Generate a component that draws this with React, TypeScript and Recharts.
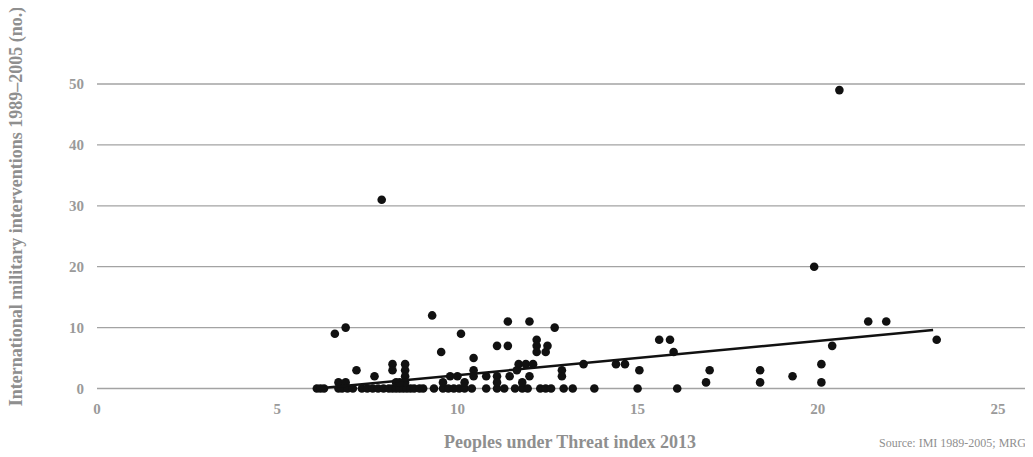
import {
  CartesianGrid,
  Scatter,
  ScatterChart,
  XAxis,
  YAxis,
} from "recharts";

// Peoples under Threat index for countries with no interventions
const zeroThreatIndex = [
  6.1, 6.2, 6.3, 6.7, 6.8, 6.95, 7.1, 7.35, 7.5, 7.65, 7.8, 7.95, 8.1, 8.2,
  8.3, 8.4, 8.5, 8.6, 8.7, 8.8, 8.95, 9.05, 9.35, 9.6, 9.75, 9.9, 10.05, 10.2,
  10.4, 10.8, 11.1, 11.3, 11.6, 11.8, 11.95, 12.3, 12.45, 12.6, 12.95, 13.2,
  13.8, 15.0, 16.1,
];

// countries with at least one intervention (paired arrays)
const threatIndex = [
  6.6, 6.9, 9.3, 10.1, 9.55, 11.1, 11.4, 11.4, 12.0, 12.7, 12.2, 12.2, 12.2,
  12.45, 12.5, 7.9, 20.6, 19.9, 21.4, 21.9, 23.3, 15.6, 15.9, 16.0, 20.4, 20.1,
  20.1, 19.3, 18.4, 18.4, 17.0, 16.9, 15.05, 14.4, 14.65, 13.5, 12.9, 12.9,
  11.7, 11.9, 12.1, 11.65, 12.0, 11.45, 11.1, 11.1, 10.8, 10.45, 10.45, 10.45,
  9.8, 10.0, 9.6, 10.2, 11.8, 7.2, 7.7, 8.2, 8.2, 8.55, 8.55, 8.55, 8.55, 8.3,
  8.4, 6.7, 6.9,
];
const interventions = [
  9, 10, 12, 9, 6, 7, 7, 11, 11, 10, 8, 7, 6, 6, 7, 31, 49, 20, 11, 11, 8, 8,
  8, 6, 7, 4, 1, 2, 3, 1, 3, 1, 3, 4, 4, 4, 3, 2, 4, 4, 4, 3, 2, 2, 2, 1, 2, 5,
  3, 2, 2, 2, 1, 1, 1, 3, 2, 4, 3, 4, 3, 2, 1, 1, 1, 1, 1,
];

// linear trend line endpoints
const trendX = [6.1, 23.2];
const trendY = [0, 9.6];

const xTicks = [0, 5, 10, 15, 20, 25];
const yTicks = [0, 10, 20, 30, 40, 50];

const points = [
  ...zeroThreatIndex.map((x) => ({ x, y: 0 })),
  ...threatIndex.map((x, i) => ({ x, y: interventions[i] })),
];
const trend = trendX.map((x, i) => ({ x, y: trendY[i] }));

const FONT = "'Liberation Serif', 'DejaVu Serif', serif";
const tickStyle = { fill: "#9a9a9a", fontSize: 15, fontWeight: 700, fontFamily: FONT };

const Dot = (props: any) => (
  <circle cx={props.cx} cy={props.cy} r={4.3} fill="#111" />
);

export default function App() {
  return (
    <div style={{ position: "relative", width: 1017, height: 449 }}>
      <ScatterChart
        width={1017}
        height={441}
        margin={{ top: 76, right: 0, bottom: 30.5, left: 0 }}
      >
        <CartesianGrid vertical={false} stroke="#a3a3a3" strokeWidth={1.3} />
        <XAxis
          type="number"
          dataKey="x"
          domain={[0, 25.75]}
          ticks={xTicks}
          interval={0}
          axisLine={false}
          tickLine={false}
          tickSize={0}
          tickMargin={15}
          height={30}
          tick={tickStyle}
        />
        <YAxis
          type="number"
          dataKey="y"
          domain={[0, 50]}
          ticks={yTicks}
          interval={0}
          axisLine={false}
          tickLine={false}
          tickSize={0}
          tickMargin={13}
          width={89}
          tick={tickStyle}
        />
        <Scatter data={points} shape={Dot} isAnimationActive={false} />
        <Scatter
          data={trend}
          line={{ stroke: "#111", strokeWidth: 2.5 }}
          shape={() => <g />}
          isAnimationActive={false}
        />
      </ScatterChart>
      <svg
        width={1017}
        height={449}
        style={{ position: "absolute", left: 0, top: 0, overflow: "visible", pointerEvents: "none" }}
      >
        <text
          transform="translate(14,198.5) rotate(-90)"
          textAnchor="middle"
          fill="#8f8f8f"
          fontSize={18}
          fontWeight={700}
          fontFamily={FONT}
        >
          International military interventions 1989–2005 (no.)
        </text>
        <text
          x={562}
          y={440}
          textAnchor="middle"
          fill="#8f8f8f"
          fontSize={18}
          fontWeight={700}
          fontFamily={FONT}
        >
          Peoples under Threat index 2013
        </text>
        <text
          x={1018}
          y={438.5}
          textAnchor="end"
          fill="#8f8f8f"
          fontSize={12}
          fontFamily={FONT}
        >
          Source: IMI 1989-2005; MRG
        </text>
      </svg>
    </div>
  );
}
